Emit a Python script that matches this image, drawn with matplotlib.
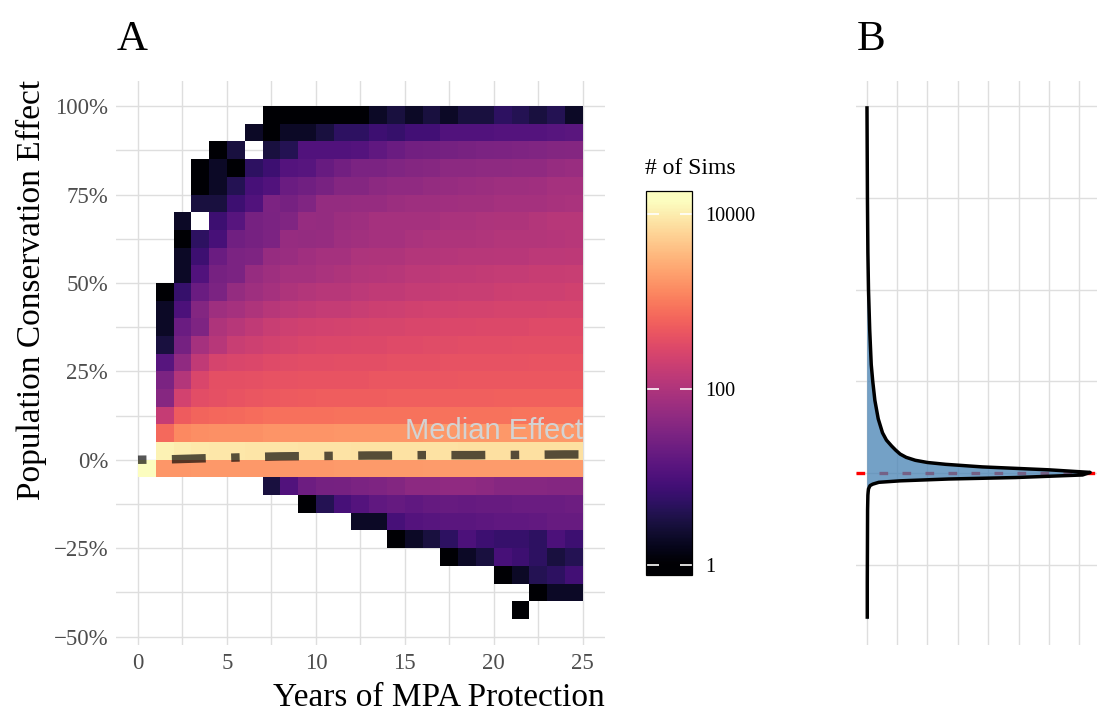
import numpy as np
import matplotlib
matplotlib.use("Agg")
import matplotlib.pyplot as plt
from matplotlib.colors import LogNorm
from matplotlib.cm import ScalarMappable

plt.rcParams['font.family'] = ['Liberation Serif', 'DejaVu Serif']
fs_tick, fs_title, fs_letter, fs_cbt, fs_cbl = 16.5, 24, 31, 17, 14.5

# ---------------- data ----------------
year_edges = list(range(0, 26))            # years of MPA protection, 1-year bins
effect_edges = list(range(-45, 105, 5))    # conservation effect (%), 5% bins

# number of simulations per bin (0 = empty), one list per effect bin, columns = year bins 0..24
row_p95 = [0, 0, 0, 0, 0, 0, 0, 1, 1, 1, 1, 1, 1, 2, 3, 2, 3, 2, 3, 3, 5, 4, 3, 4, 2]
row_p90 = [0, 0, 0, 0, 0, 0, 2, 1, 2, 2, 3, 5, 5, 7, 6, 8, 8, 11, 11, 11, 12, 12, 12, 13, 14]
row_p85 = [0, 0, 0, 0, 1, 3, 0, 3, 4, 11, 11, 11, 12, 16, 20, 24, 25, 26, 28, 30, 32, 33, 34, 36, 38]
row_p80 = [0, 0, 0, 1, 2, 1, 5, 7, 12, 13, 19, 24, 30, 30, 34, 38, 40, 45, 45, 47, 47, 50, 50, 58, 62]
row_p75 = [0, 0, 0, 1, 2, 4, 9, 11, 20, 23, 28, 38, 38, 45, 50, 50, 56, 58, 62, 65, 70, 70, 72, 80, 80]
row_p70 = [0, 0, 0, 3, 3, 7, 11, 32, 27, 34, 55, 55, 58, 58, 65, 70, 70, 72, 75, 75, 80, 80, 80, 85, 90]
row_p65 = [0, 0, 2, 0, 7, 13, 27, 30, 34, 58, 56, 65, 70, 80, 80, 80, 80, 90, 90, 95, 100, 100, 110, 120, 120]
row_p60 = [0, 0, 1, 5, 9, 23, 27, 32, 58, 56, 58, 70, 75, 80, 80, 90, 95, 100, 100, 105, 110, 110, 110, 115, 120]
row_p55 = [0, 0, 2, 7, 20, 30, 33, 58, 62, 72, 80, 80, 95, 100, 100, 110, 110, 115, 120, 120, 125, 125, 135, 135, 140]
row_p50 = [0, 0, 2, 11, 27, 30, 58, 70, 80, 80, 90, 100, 110, 115, 120, 135, 135, 150, 150, 155, 165, 165, 175, 175, 185]
row_p45 = [0, 1, 6, 20, 30, 56, 70, 80, 100, 110, 120, 120, 135, 150, 150, 165, 165, 175, 185, 185, 195, 205, 205, 205, 215]
row_p40 = [0, 2, 10, 36, 70, 80, 100, 120, 135, 150, 165, 165, 185, 195, 205, 215, 225, 225, 235, 235, 245, 245, 245, 255, 255]
row_p35 = [0, 2, 20, 33, 100, 120, 150, 185, 205, 215, 225, 235, 245, 255, 255, 270, 270, 285, 285, 300, 300, 300, 315, 315, 315]
row_p30 = [0, 3, 26, 80, 120, 185, 205, 225, 245, 270, 285, 285, 300, 300, 315, 315, 330, 330, 345, 345, 345, 360, 360, 360, 360]
row_p25 = [0, 13, 50, 150, 245, 270, 285, 315, 330, 345, 345, 360, 360, 360, 380, 380, 380, 400, 400, 400, 400, 400, 420, 420, 420]
row_p20 = [0, 30, 110, 270, 370, 370, 380, 400, 400, 420, 420, 420, 420, 440, 440, 440, 440, 440, 460, 460, 460, 460, 460, 460, 460]
row_p15 = [0, 40, 230, 340, 380, 420, 440, 480, 490, 520, 530, 540, 540, 540, 550, 550, 550, 560, 560, 560, 570, 570, 570, 580, 580]
row_p10 = [0, 170, 520, 620, 680, 700, 740, 800, 810, 820, 820, 830, 830, 830, 840, 840, 840, 850, 850, 850, 850, 860, 860, 860, 860]
row_p05 = [0, 700, 1300, 1450, 1550, 1550, 1550, 1650, 1650, 1650, 1650, 1700, 1700, 1700, 1700, 1700, 1750, 1750, 1750, 1750, 1800, 1800, 1800, 1800, 1800]
row_p00 = [0, 11000, 10000, 9000, 8800, 8700, 8600, 8500, 8400, 8300, 8200, 8100, 8000, 8000, 7900, 7900, 7800, 7800, 7700, 7700, 7600, 7600, 7500, 7500, 7500]
row_m05 = [14000, 1700, 1700, 1750, 1750, 1750, 1800, 1800, 1800, 1800, 1800, 1850, 1850, 1850, 1850, 1850, 1900, 1900, 1900, 1900, 1900, 1900, 1900, 1900, 1900]
row_m10 = [0, 0, 0, 0, 0, 0, 0, 3, 11, 22, 26, 27, 30, 33, 36, 45, 46, 50, 50, 45, 40, 40, 40, 38, 38]
row_m15 = [0, 0, 0, 0, 0, 0, 0, 0, 0, 1, 4, 9, 12, 16, 18, 16, 18, 19, 18, 19, 19, 20, 20, 20, 22]
row_m20 = [0, 0, 0, 0, 0, 0, 0, 0, 0, 0, 0, 0, 2, 2, 9, 12, 13, 14, 14, 15, 16, 16, 17, 19, 19]
row_m25 = [0, 0, 0, 0, 0, 0, 0, 0, 0, 0, 0, 0, 0, 0, 1, 2, 3, 5, 10, 7, 6, 6, 5, 10, 7]
row_m30 = [0, 0, 0, 0, 0, 0, 0, 0, 0, 0, 0, 0, 0, 0, 0, 0, 0, 1, 2, 3, 9, 7, 5, 3, 4]
row_m35 = [0, 0, 0, 0, 0, 0, 0, 0, 0, 0, 0, 0, 0, 0, 0, 0, 0, 0, 0, 0, 1, 2, 4, 5, 8]
row_m40 = [0, 0, 0, 0, 0, 0, 0, 0, 0, 0, 0, 0, 0, 0, 0, 0, 0, 0, 0, 0, 0, 0, 1, 2, 2]
row_m45 = [0, 0, 0, 0, 0, 0, 0, 0, 0, 0, 0, 0, 0, 0, 0, 0, 0, 0, 0, 0, 0, 1, 0, 0, 0]

# median effect per year (%)
median_years = list(range(0, 26))
median_effect = [0.0, 0.05, 0.15, 0.3, 0.45, 0.55, 0.7, 0.85, 0.95, 1.0, 1.05, 1.1, 1.15,
                 1.2, 1.2, 1.25, 1.3, 1.3, 1.3, 1.3, 1.35, 1.35, 1.4, 1.45, 1.5, 1.5]

# panel B: density of the conservation effect (%), density in relative units
dens_effect = [-39.7, -30, -20, -10, -6, -5, -4.3, -3.4, -3.0, -2.5, -2.1, -1.6, -1.2, -0.5,
               0.2, 0.9, 1.7, 2.4, 2.9, 3.5, 4.3, 5.2, 6.3, 7.4, 9, 11, 14.8, 19.8, 25,
               29.6, 39, 50, 60, 75, 100]
dens_value = [0.02, 0.02, 0.025, 0.03, 0.04, 0.05, 0.06, 0.11, 0.2, 0.4, 1.1, 2.7, 4.9, 7.1,
              7.35, 6.0, 3.8, 2.6, 2.0, 1.6, 1.3, 1.1, 0.95, 0.82, 0.65, 0.52, 0.38, 0.27, 0.2,
              0.15, 0.1, 0.06, 0.04, 0.025, 0.01]

x_ticks = [0, 5, 10, 15, 20, 25]
y_ticks = [-50, -25, 0, 25, 50, 75, 100]
y_ticklabels = ['\u221250%', '\u221225%', '0%', '25%', '50%', '75%', '100%']
cbar_ticks = [1, 100, 10000]
cbar_ticklabels = ['1', '100', '10000']

# ---------------- figure ----------------
W, H = 1097, 717
fig = plt.figure(figsize=(W / 100, H / 100), dpi=100)
fig.patch.set_facecolor('white')


def px_axes(l, t, r, b):
    return fig.add_axes([l / W, 1 - b / H, (r - l) / W, (b - t) / H])


grid_color = '#dedede'
tick_color = '#4d4d4d'

# ---- panel A ----
axA = px_axes(115.75, 80.5, 605, 644.5)
counts = np.array([row_m45, row_m40, row_m35, row_m30, row_m25, row_m20, row_m15, row_m10,
                   row_m05, row_p00, row_p05, row_p10, row_p15, row_p20, row_p25, row_p30,
                   row_p35, row_p40, row_p45, row_p50, row_p55, row_p60, row_p65, row_p70,
                   row_p75, row_p80, row_p85, row_p90, row_p95], dtype=float)
counts = np.ma.masked_less_equal(counts, 0)
norm = LogNorm(vmin=1, vmax=14000)
axA.pcolormesh(year_edges, effect_edges, counts, cmap='magma', norm=norm, zorder=2)

axA.plot(median_years, median_effect, color='black', alpha=0.66, lw=6.1,
         dashes=(1, 3, 4, 3), dash_capstyle='butt', zorder=3)
axA.text(25, 5.85, 'Median Effect', ha='right', va='baseline', color='#d3d3d3',
         fontsize=21, family=['Liberation Sans', 'DejaVu Sans'], zorder=4)

axA.set_xlim(-1.25, 26.25)
axA.set_ylim(-52.25, 107.25)
axA.set_xticks(x_ticks)
axA.set_xticklabels([str(v) for v in x_ticks])
axA.set_xticks(np.arange(2.5, 25, 5), minor=True)
axA.set_yticks(y_ticks)
axA.set_yticklabels(y_ticklabels)
axA.set_yticks([-37.5, -12.5, 12.5, 37.5, 62.5, 87.5], minor=True)
axA.grid(which='both', color=grid_color, lw=1.0, zorder=0)
axA.set_axisbelow(True)
axA.tick_params(which='both', length=0)
axA.tick_params(axis='x', pad=6, labelsize=fs_tick, labelcolor=tick_color)
axA.tick_params(axis='y', pad=5.5, labelsize=fs_tick, labelcolor=tick_color)
for s in axA.spines.values():
    s.set_visible(False)

fig.text(605 / W, 1 - 706 / H, 'Years of MPA Protection', ha='right', va='baseline',
         fontsize=fs_title, color='black')
fig.text(31 / W, 1 - 80 / H, 'Population Conservation Effect', ha='center', va='top',
         rotation=90, fontsize=fs_title, color='black')
fig.text(117 / W, 1 - 50 / H, 'A', ha='left', va='baseline', fontsize=fs_letter)
fig.text(857 / W, 1 - 50 / H, 'B', ha='left', va='baseline', fontsize=fs_letter)

# ---- colorbar ----
cax = px_axes(645.7, 190.7, 692.3, 575)
sm = ScalarMappable(norm=norm, cmap='magma')
cb = fig.colorbar(sm, cax=cax, extend='both', extendrect=True, extendfrac=0.0275,
                  ticks=cbar_ticks)
cb.minorticks_off()
cb.set_ticklabels(cbar_ticklabels)
cb.outline.set_linewidth(0.9)
cb.outline.set_edgecolor('black')
cax.tick_params(which='major', direction='in', length=9, width=1.2, color='white',
                left=True, right=True, labelleft=False, labelright=True,
                labelcolor='black', labelsize=fs_cbl, pad=9)
fig.text(645 / W, 1 - 174 / H, '# of Sims', ha='left', va='baseline', fontsize=fs_cbt)

# ---- panel B ----
axB = px_axes(855.5, 80.5, 1101.3, 644.5)
axB.axhline(0, color='red', lw=2.4, dashes=(2.6, 4.3), zorder=2)
axB.fill_betweenx(dens_effect, 0, dens_value, color='steelblue', alpha=0.75, lw=0, zorder=3)
axB.plot(dens_value, dens_effect, color='black', lw=2.5, zorder=4, solid_capstyle='butt')
axB.set_xlim(-0.3675, 7.7175)
axB.set_ylim(-46.7, 107)
axB.set_xticks(np.arange(0, 8))
axB.set_yticks([-25, 0, 25, 50, 75, 100])
axB.grid(which='major', color=grid_color, lw=1.0, zorder=0)
axB.set_axisbelow(True)
axB.tick_params(which='both', length=0, labelbottom=False, labelleft=False)
for s in axB.spines.values():
    s.set_visible(False)

fig.savefig('out.png', dpi=100, facecolor='white')
